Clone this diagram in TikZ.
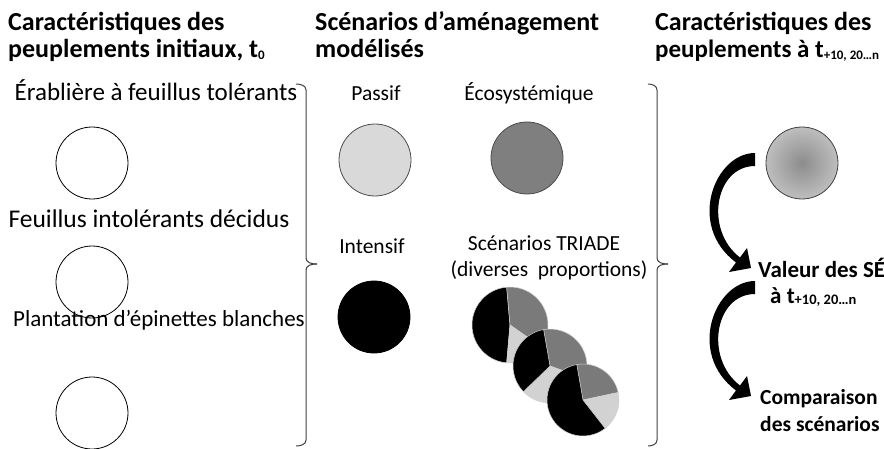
\documentclass[tikz,border=0pt]{standalone}
\usepackage{fontspec}
\setmainfont{Carlito}
\definecolor{lightg}{HTML}{D9D9D9}
\definecolor{midg}{HTML}{7F7F7F}
\definecolor{pgray}{HTML}{7A7A7A}
\definecolor{plight}{HTML}{D2D2D2}
\pgfdeclareradialshading{sephere}{\pgfpoint{0bp}{0bp}}{color(0bp)=(black!45); color(50bp)=(black!6)}
\newcommand\subtxt[2][13]{\raisebox{-1.5pt}{\fontsize{#1}{#1}\selectfont #2}}
\newcommand\pieslice[5]{\fill[#5, draw=white!65!gray, line width=0.5pt] (#1) -- ++(#3:#2) arc[start angle=#3, end angle=#4, radius=#2] -- cycle;}
\begin{document}
\begin{tikzpicture}[x=1pt, y=1pt,
  head/.style={font=\fontsize{26}{30}\selectfont\bfseries, inner sep=0, anchor=base west},
  rhead/.style={font=\fontsize{23}{27}\selectfont\bfseries, inner sep=0, anchor=base west},
  lab/.style={font=\fontsize{25}{30}\selectfont, inner sep=0, anchor=base},
  mlab/.style={font=\fontsize{21.5}{26}\selectfont, inner sep=0, anchor=base},
  ball/.style={circle, draw=black, line width=0.8pt, minimum size=72pt, inner sep=0},
  bracestyle/.style={draw=black!75, line width=1pt},
  pics/bigarrow/.style={code={
    \fill[black] (755,295) .. controls (715,295) and (686,223) .. (736,185.5)
      -- (729,176) -- (751,180) -- (747,200) -- (740,190.5)
      .. controls (704,218) and (715,282) .. (755,282) -- cycle;
  }}]
\path[use as bounding box] (0,0) rectangle (884,448);
\clip (0,0) rectangle (884,448);

% headings
\node[head] (h1a) at (8,417) {Caractéristiques des};
\node[head] (h1b) at (8,390) {peuplements initiaux, t\subtxt{0}};
\node[head] (h2a) at (315,417) {Scénarios d’aménagement};
\node[head] (h2b) at (315,390) {modélisés};
\node[head] (h3a) at (655,417) {Caractéristiques des};
\node[head, font=\fontsize{25}{30}\selectfont\bfseries] (h3b) at (655,390) {peuplements à t\subtxt{+10, 20…n}};

% left column
\node[lab] (l1) at (156,347) {Érablière à feuillus tolérants};
\node[ball, fill=white] (c1) at (92,285) {};
\node[lab, font=\fontsize{25.5}{30}\selectfont] (l2) at (149,221) {Feuillus intolérants décidus};
\node[ball, fill=white] (c2) at (92,166) {};
\node[lab, font=\fontsize{23}{28}\selectfont] (l3) at (159,122) {Plantation d’épinettes blanches};
\node[ball, fill=white] (c3) at (92,35) {};

% brace 1
\draw[bracestyle] (296,364) to[out=0,in=90] (306,358) -- (306,190) to[out=-90,in=180] (317,184);
\draw[bracestyle] (317,184) to[out=180,in=90] (306,178) -- (306,8) to[out=-90,in=0] (296,2);

% middle column
\node[mlab] (tp) at (376,347) {Passif};
\node[ball, fill=lightg, draw=black!70] (cp) at (375,288) {};
\node[mlab] (te) at (529,347) {Écosystémique};
\node[ball, fill=midg, draw=black!70] (ce) at (527,290) {};
\node[mlab] (ti) at (372,195) {Intensif};
\node[ball, fill=black] (ci) at (374,131) {};
\node[mlab] (tt1) at (544,198) {Scénarios TRIADE};
\node[mlab] (tt2) at (549,172) {(diverses~~proportions)};

% pies
\coordinate (p1) at (510,123);
\coordinate (p2) at (550,82);
\coordinate (p3) at (583,48);
\pieslice{p1}{38}{95}{265}{black}
\pieslice{p1}{38}{-35}{95}{pgray}
\pieslice{p1}{38}{-95}{-35}{plight}
\pieslice{p2}{37}{-20}{100}{pgray}
\pieslice{p2}{37}{-136}{-20}{plight}
\pieslice{p2}{37}{100}{224}{black}
\pieslice{p3}{36}{12}{100}{pgray}
\pieslice{p3}{36}{-52}{12}{plight}
\pieslice{p3}{36}{100}{308}{black}

% brace 2
\draw[bracestyle] (648,364) to[out=0,in=90] (657,358) -- (657,190) to[out=-90,in=180] (668,184);
\draw[bracestyle] (668,184) to[out=180,in=90] (657,178) -- (657,8) to[out=-90,in=0] (648,2);

% right column
\node[circle, draw=black!75, line width=0.8pt, minimum size=72pt, inner sep=0, shade, shading=sephere] (cg) at (802,285) {};
\pic at (0,0) {bigarrow};
\pic at (0,-128) {bigarrow};
\node[rhead] (v1) at (758,171) {Valeur des SÉ};
\node[rhead] (v2) at (770,145) {à t\subtxt[14.5]{+10, 20…n}};
\node[rhead, font=\fontsize{21.5}{26}\selectfont\bfseries] (cmp1) at (760,44) {Comparaison};
\node[rhead, font=\fontsize{21.5}{26}\selectfont\bfseries] (cmp2) at (760,17) {des scénarios};
\end{tikzpicture}
\end{document}
